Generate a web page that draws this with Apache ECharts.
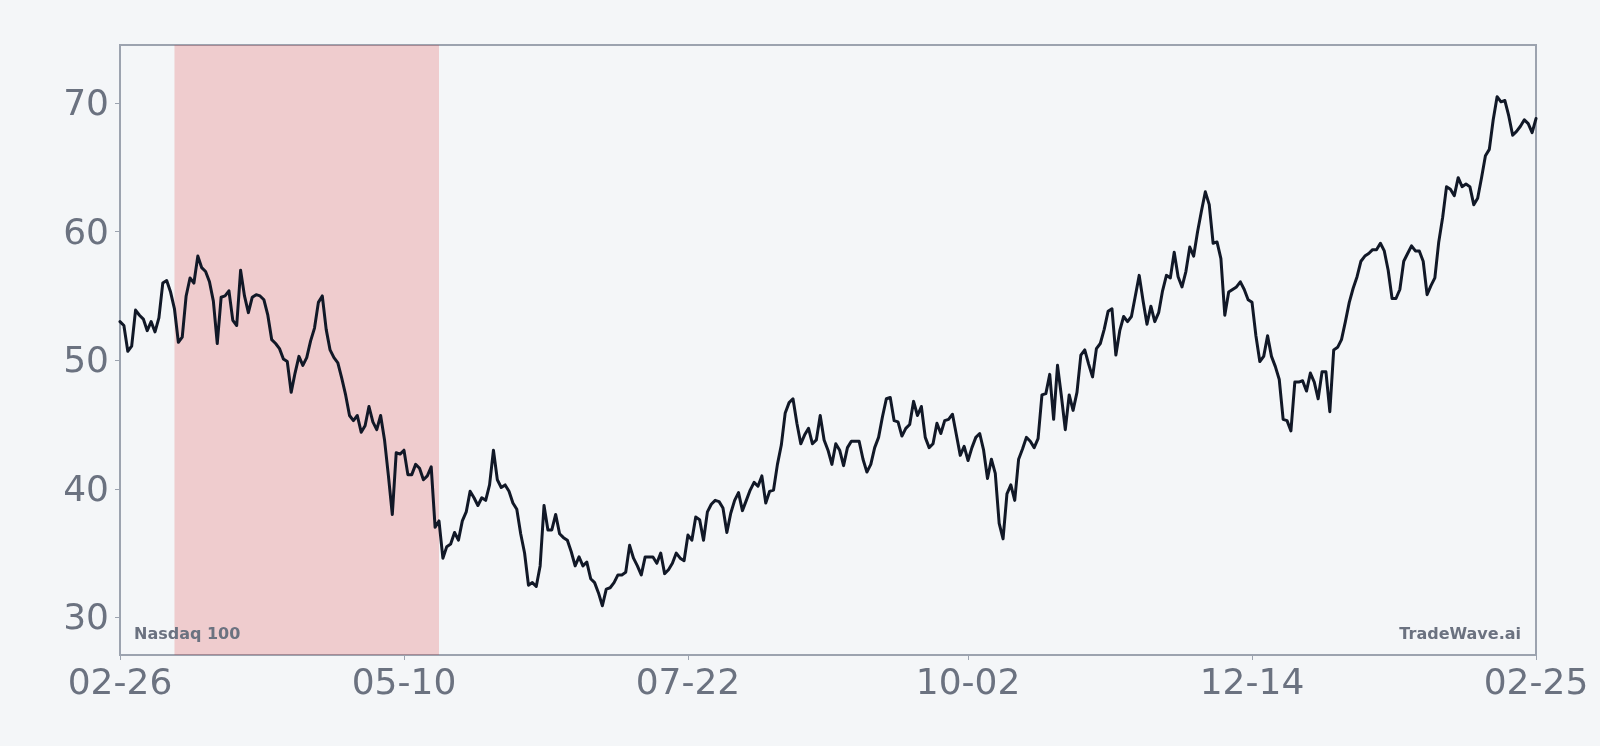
<!DOCTYPE html>
<html>
<head>
<meta charset="utf-8">
<script src="https://cdn.jsdelivr.net/npm/echarts@6/dist/echarts.min.js"></script>
<style>
  html, body { margin: 0; padding: 0; background: #f4f6f8; }
  #chart { width: 1600px; height: 746px; }
</style>
</head>
<body>
<div id="chart"></div>
<script>
// Daily closing values, 2023-02-26 .. 2024-02-25 (one per calendar day)
const startDate = '2023-02-26';
const values = [
  53.0, 52.7, 50.7, 51.1, 53.9, 53.5, 53.2, 52.3, 53.0, 52.2,
  53.3, 56.0, 56.2, 55.3, 54.0, 51.4, 51.8, 55.0, 56.4, 56.0,
  58.1, 57.2, 56.9, 56.1, 54.6, 51.3, 54.9, 55.0, 55.4, 53.1,
  52.7, 57.0, 55.0, 53.7, 54.9, 55.1, 55.0, 54.7, 53.5, 51.6,
  51.3, 50.9, 50.1, 49.9, 47.5, 49.0, 50.3, 49.6, 50.2, 51.5,
  52.5, 54.5, 55.0, 52.4, 50.8, 50.2, 49.8, 48.6, 47.3, 45.7,
  45.3, 45.7, 44.4, 44.9, 46.4, 45.2, 44.6, 45.7, 43.8, 41.0,
  38.0, 42.8, 42.7, 43.0, 41.1, 41.1, 41.9, 41.6, 40.7, 41.0,
  41.7, 37.0, 37.5, 34.6, 35.5, 35.7, 36.6, 36.0, 37.5, 38.2,
  39.8, 39.3, 38.7, 39.3, 39.1, 40.3, 43.0, 40.7, 40.1, 40.3,
  39.8, 38.9, 38.4, 36.5, 35.0, 32.5, 32.7, 32.4, 34.0, 38.7,
  36.8, 36.8, 38.0, 36.5, 36.2, 36.0, 35.1, 34.0, 34.7, 34.0,
  34.3, 33.0, 32.7, 31.9, 30.9, 32.2, 32.3, 32.7, 33.3, 33.3,
  33.5, 35.6, 34.6, 34.0, 33.3, 34.7, 34.7, 34.7, 34.2, 35.0,
  33.4, 33.7, 34.2, 35.0, 34.6, 34.4, 36.4, 36.0, 37.8, 37.6,
  36.0, 38.2, 38.8, 39.1, 39.0, 38.5, 36.6, 38.1, 39.1, 39.7,
  38.3, 39.1, 39.9, 40.5, 40.2, 41.0, 38.9, 39.8, 39.9, 41.9,
  43.4, 45.9, 46.7, 47.0, 45.1, 43.5, 44.2, 44.7, 43.5, 43.8,
  45.7, 43.8, 43.0, 41.9, 43.5, 43.0, 41.8, 43.2, 43.7, 43.7,
  43.7, 42.3, 41.3, 41.9, 43.2, 44.0, 45.6, 47.0, 47.1, 45.3,
  45.2, 44.1, 44.7, 45.0, 46.8, 45.7, 46.4, 44.0, 43.2, 43.5,
  45.1, 44.3, 45.3, 45.4, 45.8, 44.2, 42.6, 43.3, 42.2, 43.2,
  44.0, 44.3, 43.0, 40.8, 42.3, 41.2, 37.3, 36.1, 39.6, 40.3,
  39.1, 42.3, 43.1, 44.0, 43.7, 43.2, 43.9, 47.3, 47.4, 48.9,
  45.4, 49.6, 47.2, 44.6, 47.3, 46.1, 47.5, 50.4, 50.8, 49.7,
  48.7, 50.9, 51.3, 52.4, 53.8, 54.0, 50.4, 52.3, 53.4, 53.0,
  53.4, 55.0, 56.6, 54.6, 52.8, 54.2, 53.0, 53.7, 55.4, 56.6,
  56.4, 58.4, 56.5, 55.7, 56.9, 58.8, 58.1, 60.0, 61.6, 63.1,
  62.1, 59.1, 59.2, 57.9, 53.5, 55.3, 55.5, 55.7, 56.1, 55.5,
  54.7, 54.5, 51.9, 49.9, 50.3, 51.9, 50.3, 49.5, 48.5, 45.4,
  45.3, 44.5, 48.3, 48.3, 48.4, 47.6, 49.0, 48.3, 47.0, 49.1,
  49.1, 46.0, 50.8, 51.0, 51.6, 53.0, 54.5, 55.6, 56.5, 57.7,
  58.1, 58.3, 58.6, 58.6, 59.1, 58.5, 57.0, 54.8, 54.8, 55.5,
  57.7, 58.3, 58.9, 58.5, 58.5, 57.7, 55.1, 55.8, 56.4, 59.2,
  61.1, 63.5, 63.3, 62.8, 64.2, 63.5, 63.7, 63.5, 62.1, 62.6,
  64.2, 65.9, 66.4, 68.7, 70.5, 70.1, 70.2, 69.0, 67.5, 67.8,
  68.2, 68.7, 68.4, 67.7, 68.8
];
// x tick positions (day index from start) and their labels
const xTickDays = [0, 73, 146, 218, 291, 364];
const xTickLabels = ['02-26', '05-10', '07-22', '10-02', '12-14', '02-25'];
const yTicks = [30, 40, 50, 60, 70];
// shaded period (day indices): 03-12 .. 05-19
const shadeStart = 14;
const shadeEnd = 82;
const titleLeft = 'Nasdaq 100';
const titleRight = 'TradeWave.ai';

const seriesData = values.map((v, i) => [i, v]);

const chart = echarts.init(document.getElementById('chart'), null, { renderer: 'canvas' });
const axisGray = '#9ca3af';
const textGray = '#6b7280';
const font = 'DejaVu Sans';

chart.setOption({
  backgroundColor: '#f4f6f8',
  animation: false,
  grid: {
    left: 120, right: 64, top: 45, bottom: 91,
    show: true, borderColor: axisGray, borderWidth: 2, backgroundColor: 'transparent'
  },
  xAxis: {
    type: 'value',
    min: 0, max: 364,
    axisLine: { show: true, lineStyle: { color: axisGray, width: 2 } },
    axisTick: { show: true, length: 5, lineStyle: { color: axisGray, width: 1 }, customValues: xTickDays },
    axisLabel: {
      customValues: xTickDays,
      formatter: (v) => xTickLabels[xTickDays.indexOf(v)] ?? '',
      color: textGray, fontFamily: font, fontSize: 36, margin: 12
    },
    splitLine: { show: false }
  },
  yAxis: {
    type: 'value',
    min: 27.07, max: 74.52,
    axisLine: { show: true, lineStyle: { color: axisGray, width: 2 } },
    axisTick: { show: true, length: 5, lineStyle: { color: axisGray, width: 1 }, customValues: yTicks },
    axisLabel: {
      customValues: yTicks,
      formatter: (v) => '{t|' + v + '}',
      margin: 11,
      rich: {
        t: { color: textGray, fontFamily: font, fontSize: 36, padding: [5, 0, 0, 0] }
      }
    },
    splitLine: { show: false }
  },
  graphic: [
    { type: 'text', left: 134, top: 627, z: 10,
      style: { text: titleLeft, fill: textGray, font: 'bold 16px "DejaVu Sans"' } },
    { type: 'text', right: 79, top: 627, z: 10,
      style: { text: titleRight, fill: textGray, font: 'bold 16px "DejaVu Sans"' } }
  ],
  series: [
    {
      type: 'line', data: [], z: 1, silent: true,
      markArea: {
        silent: true,
        itemStyle: { color: 'rgba(220,38,38,0.2)' },
        data: [[{ xAxis: shadeStart }, { xAxis: shadeEnd }]]
      }
    },
    {
      type: 'line', data: seriesData, z: 3,
      showSymbol: false, symbol: 'none',
      lineStyle: { color: '#111827', width: 3, join: 'round', cap: 'round' }
    }
  ]
});
</script>
</body>
</html>
